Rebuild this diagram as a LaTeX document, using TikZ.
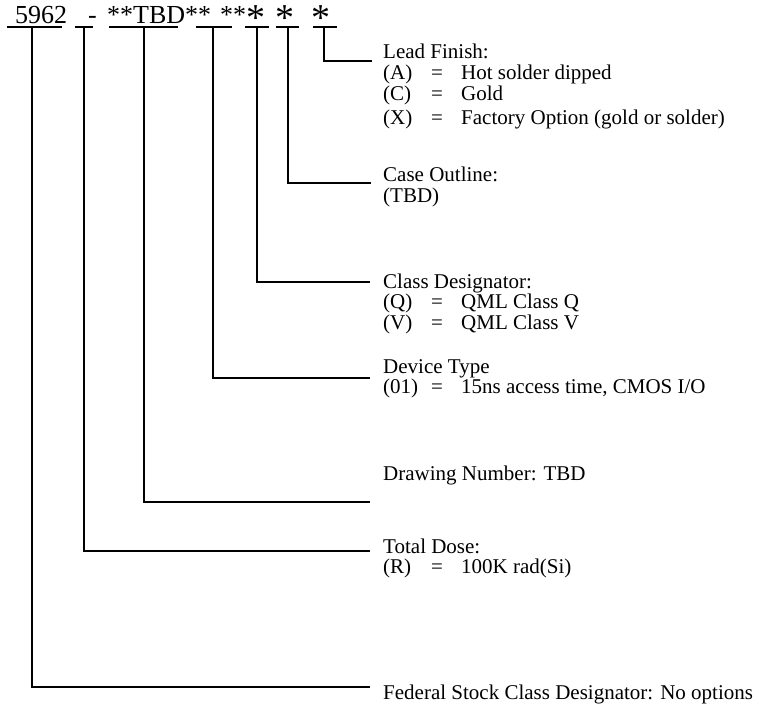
\documentclass[tikz,border=0pt]{standalone}
\usepackage{fontspec}
\setmainfont{Liberation Serif}
\usepackage{tikz}
\usetikzlibrary{positioning}
\newcommand{\bigast}{{\fontsize{38}{38}\selectfont *}}
\newcommand{\optrow}[2]{\makebox[48pt][l]{#1}\makebox[30pt][l]{=}#2}
\newcommand{\noteblock}[1]{\begin{tabular}[t]{@{}l@{}}#1\end{tabular}}
\tikzset{
  codeText/.style={font=\fontsize{26}{26}\selectfont, inner sep=0pt, anchor=base west},
  noteLabel/.style={font=\fontsize{21}{20}\selectfont, inner sep=0pt, anchor=base west},
  leadLine/.style={line width=1.6pt}
}

\begin{document}
\begin{tikzpicture}[x=1pt,y=-1pt]
  \fill[white] (0,0) rectangle (759,711);
  \useasboundingbox (0,0) rectangle (759,711);
  % part number
  \node[codeText] (cFed) at (15,24) {5962};
  \node[codeText] (cDose) at (88,24) {-};
  \node[codeText] (cDraw) at (107,24) {**TBD**};
  \node[codeText] (cDev) at (220,24) {**};
  \node[codeText] (cClass) at (246,31) {\bigast};
  \node[codeText] (cCase) at (275,31) {\bigast};
  \node[codeText] (cLead) at (311,31) {\bigast};
  \foreach \a/\b in {7/62, 75/93, 109/178, 196/232, 245/269, 276/299, 313/337}
    \draw[leadLine] (\a,27) -- (\b,27);
  \coordinate (tFed) at (32,27);
  \coordinate (tDose) at (84,27);
  \coordinate (tDraw) at (144,27);
  \coordinate (tDev) at (213,27);
  \coordinate (tClass) at (257,27);
  \coordinate (tCase) at (288,27);
  \coordinate (tLead) at (324,27);
  % explanations
  \node[noteLabel] (lLead) at (383,59) {\noteblock{Lead Finish:\\
    \optrow{(A)}{Hot solder dipped}\\
    \optrow{(C)}{Gold}\\[4pt]
    \optrow{(X)}{Factory Option (gold or solder)}}};
  \node[noteLabel] (lCase) at (383,182) {\noteblock{Case Outline:\\ (TBD)}};
  \node[noteLabel] (lClass) at (383,288) {\noteblock{Class Designator:\\
    \optrow{(Q)}{QML Class Q}\\
    \optrow{(V)}{QML Class V}}};
  \node[noteLabel] (lDev) at (383,373) {\noteblock{Device Type\\
    \optrow{(01)}{15ns access time, CMOS I/O}}};
  \node[noteLabel] (lDraw) at (383,480) {Drawing Number: TBD};
  \node[noteLabel] (lDose) at (383,553) {\noteblock{Total Dose:\\
    \optrow{(R)}{100K rad(Si)}}};
  \node[noteLabel] (lFed) at (383,699) {Federal Stock Class Designator: No options};
  \coordinate (eLead) at (372,61);
  \coordinate (eCase) at (371,183);
  \coordinate (eClass) at (370,282);
  \coordinate (eDev) at (370,378);
  \coordinate (eDraw) at (370,502);
  \coordinate (eDose) at (370,551);
  \coordinate (eFed) at (370,687);
  \draw[leadLine] (tLead) |- (eLead);
  \draw[leadLine] (tCase) |- (eCase);
  \draw[leadLine] (tClass) |- (eClass);
  \draw[leadLine] (tDev) |- (eDev);
  \draw[leadLine] (tDraw) |- (eDraw);
  \draw[leadLine] (tDose) |- (eDose);
  \draw[leadLine] (tFed) |- (eFed);
\end{tikzpicture}
\end{document}
